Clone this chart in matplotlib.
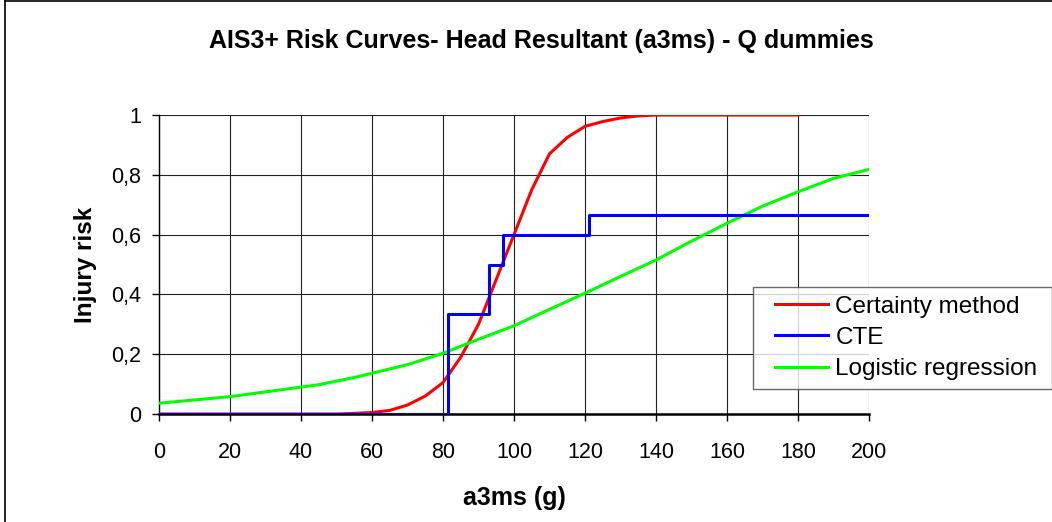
import matplotlib
matplotlib.use("Agg")
import matplotlib.pyplot as plt
from matplotlib.lines import Line2D
from matplotlib.legend_handler import HandlerLine2D
from matplotlib.ticker import FuncFormatter

plt.rcParams['font.family'] = ['Liberation Sans', 'DejaVu Sans']

# Data
certainty_x = [0, 50, 55, 60, 65, 70, 75, 80, 85, 90, 95, 100, 105, 110, 115, 120, 125, 130, 135, 140, 180]
certainty_y = [0, 0, 0.002, 0.005, 0.012, 0.03, 0.06, 0.105, 0.19, 0.30, 0.45, 0.60, 0.75, 0.87, 0.925,
               0.962, 0.978, 0.99, 0.997, 1.0, 1.0]

cte_x = [0, 81.3, 93.0, 97.0, 121.2, 200]
cte_y = [0, 0.333, 0.5, 0.6, 0.667, 0.667]

logistic_x = [0, 20, 45, 55, 70, 80, 90, 100, 110, 120, 130, 140, 150, 160, 170, 180, 190, 200]
logistic_y = [0.036, 0.058, 0.098, 0.122, 0.165, 0.203, 0.25, 0.295, 0.35, 0.404, 0.46, 0.515,
              0.578, 0.638, 0.695, 0.743, 0.788, 0.818]

x_ticks = [0, 20, 40, 60, 80, 100, 120, 140, 160, 180, 200]
y_ticks = [0, 0.2, 0.4, 0.6, 0.8, 1.0]

W, H = 1052, 522
fig = plt.figure(figsize=(W / 100, H / 100), dpi=100)
ax = fig.add_axes([159 / W, 1 - 414 / H, (869 - 159) / W, (414 - 115) / H])

ax.plot(certainty_x, certainty_y, color='#ff0000', lw=2.2, label='Certainty method', zorder=3)
ax.step(cte_x, cte_y, where='post', color='#0000ff', lw=2.2, label='CTE', zorder=4)
ax.plot(logistic_x, logistic_y, color='#00ff00', lw=2.2, label='Logistic regression', zorder=3)

ax.set_xlim(0, 200)
ax.set_ylim(0, 1)
ax.set_xticks(x_ticks)
ax.set_yticks(y_ticks)
ax.yaxis.set_major_formatter(FuncFormatter(lambda v, p: ('%g' % round(v, 1)).replace('.', ',')))
ax.grid(True, color='#222222', lw=0.8)
ax.set_axisbelow(True)
for s in ['top', 'right']:
    ax.spines[s].set_visible(False)
ax.spines['left'].set_linewidth(1.0)
ax.spines['bottom'].set_linewidth(1.8)
ax.tick_params(axis='both', direction='out', length=5, width=1, labelsize=15.5, colors='black')
ax.tick_params(axis='x', pad=15)
ax.tick_params(axis='y', pad=8)

ax.set_xlabel('a3ms (g)', fontsize=18, fontweight='bold', labelpad=17)
ax.set_ylabel('Injury risk', fontsize=17.5, fontweight='bold', labelpad=10)

fig.text(541 / W, 1 - 41 / H, 'AIS3+ Risk Curves- Head Resultant (a3ms) - Q dummies',
         ha='center', va='center', fontsize=18, fontweight='bold')

leg = ax.legend(loc='upper left', bbox_to_anchor=(753 / W, 1 - 387 / H, (1052 - 753) / W, 100 / H),
                bbox_transform=fig.transFigure, mode='expand',
                fontsize=17.5, frameon=True, fancybox=False, borderpad=0.35, labelspacing=0.38,
                handlelength=2.74, handletextpad=0.3, borderaxespad=0,
                handler_map={Line2D: HandlerLine2D(xpad=0.55)})
leg.get_frame().set_edgecolor('#444444')
leg.get_frame().set_linewidth(1.0)

# figure border
fig.add_artist(Line2D([5 / W, 5 / W], [0, 1 - 1 / H], transform=fig.transFigure, color='black', lw=1.2))
fig.add_artist(Line2D([5 / W, 1], [1 - 1 / H, 1 - 1 / H], transform=fig.transFigure, color='black', lw=1.2))

fig.savefig('out.png', dpi=100)
